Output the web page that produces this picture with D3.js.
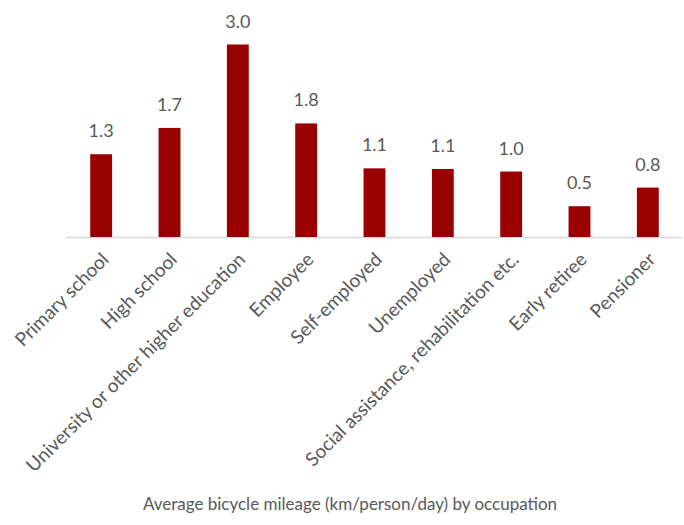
<!DOCTYPE html>
<html><head><meta charset="utf-8">
<script src="https://cdn.jsdelivr.net/npm/d3@7"></script>
<style>
html,body{margin:0;padding:0;background:#fff;}
svg{display:block;}
text{font-family:Lato,"Open Sans",sans-serif;fill:#595959;}
</style></head>
<body>
<svg id="chart" width="684" height="525"></svg>
<script>
const categories = ["Primary school","High school","University or other higher education","Employee","Self-employed","Unemployed","Social assistance, rehabilitation etc.","Early retiree","Pensioner"];
const values = [1.29, 1.70, 3.0, 1.77, 1.07, 1.06, 1.02, 0.48, 0.77];
const title = "Average bicycle mileage (km/person/day) by occupation";

const svg = d3.select("#chart");
const baseline = 237;
const x = d3.scaleBand().domain(categories).range([67, 682]).paddingInner(0.68).paddingOuter(0.34);
const y = d3.scaleLinear().domain([0, 3]).range([baseline, 44.5]);

svg.append("line").attr("x1",66).attr("x2",682).attr("y1",baseline+0.5).attr("y2",baseline+0.5)
  .attr("stroke","#d9d9d9").attr("stroke-width",1.5);

svg.selectAll("rect.bar").data(values).join("rect").attr("class","bar")
  .attr("x",(d,i)=>x(categories[i])).attr("width",x.bandwidth())
  .attr("y",d=>y(d)).attr("height",d=>baseline-y(d)).attr("fill","#990000");

svg.selectAll("text.val").data(values).join("text").attr("class","val")
  .attr("x",(d,i)=>x(categories[i])+x.bandwidth()/2).attr("y",d=>y(d)-17)
  .attr("text-anchor","middle").attr("font-size",18).text(d=>d3.format(".1f")(d));

svg.selectAll("text.cat").data(categories).join("text").attr("class","cat")
  .attr("transform",d=>`translate(${x(d)+x.bandwidth()/2+4},256) rotate(-45)`)
  .attr("text-anchor","end").attr("dy","0.35em").attr("font-size",19).text(d=>d);

svg.append("text").attr("x",350).attr("y",510).attr("text-anchor","middle").attr("font-size",17).text(title);
</script>
</body></html>
